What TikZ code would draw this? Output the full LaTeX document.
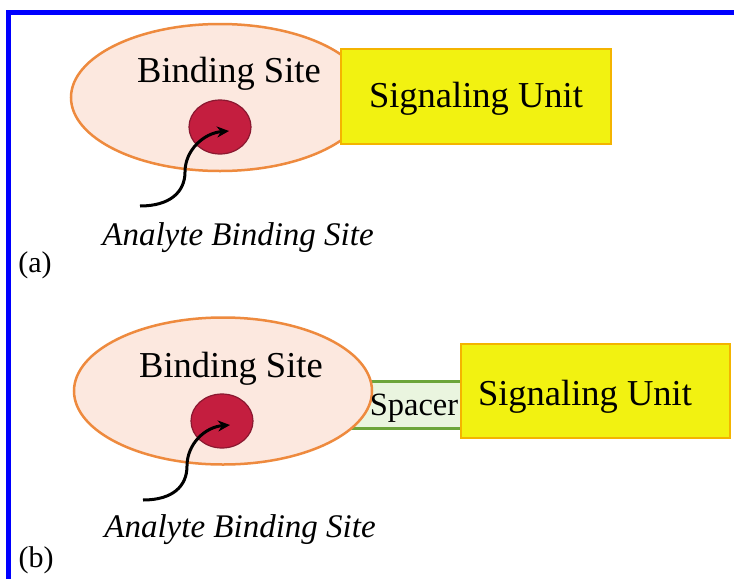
\documentclass[tikz,border=0pt]{standalone}
\usepackage{fontspec}
\setmainfont{Liberation Serif}
\usetikzlibrary{shapes.geometric}
\usetikzlibrary{arrows.meta}
\usetikzlibrary{positioning}
\definecolor{peach}{HTML}{FCE8DF}
\definecolor{peachline}{HTML}{EE8A3E}
\definecolor{pocketred}{HTML}{C41E3F}
\definecolor{pocketline}{HTML}{8A1830}
\definecolor{unitfill}{HTML}{F2F211}
\definecolor{unitline}{HTML}{F4B400}
\definecolor{spacerfill}{HTML}{EAF5DF}
\definecolor{spacerline}{HTML}{6CA53A}
\definecolor{frameblue}{HTML}{0000FF}
\tikzset{bsite/.style = {shape=ellipse,draw=peachline,fill=peach,line width=2.5pt,minimum width=298pt,minimum height=147pt,inner sep=0pt}}
\tikzset{pocket/.style = {shape=ellipse,draw=pocketline,fill=pocketred,line width=1.2pt,minimum width=62pt,minimum height=54pt,inner sep=0pt}}
\tikzset{unit/.style = {shape=rectangle,draw=unitline,fill=unitfill,line width=2pt,inner sep=0pt}}
\tikzset{spacerbox/.style = {shape=rectangle,draw=spacerline,fill=spacerfill,line width=3pt,minimum width=131pt,minimum height=47pt,inner sep=0pt}}
\tikzset{txt/.style = {anchor=base,inner sep=0pt,font=\fontsize{36.5}{42}\selectfont}}
\tikzset{itxt/.style = {anchor=base,inner sep=0pt,font=\fontsize{33}{38}\selectfont\itshape}}
\tikzset{tag/.style = {anchor=base,inner sep=0pt,font=\fontsize{30}{36}\selectfont}}
\tikzset{pointer/.style = {-{Stealth[length=12pt,width=11pt]},line width=3pt,black}}

\begin{document}
\begin{tikzpicture}[x=1pt,y=-1pt]
  \useasboundingbox (0,0) rectangle (734,579);
  \fill[white] (0,0) rectangle (734,579);
  \fill[frameblue] (6,10) rectangle (734,15);
  \fill[frameblue] (6,10) rectangle (11,579);
  % (a)
  \node[bsite] (siteA) at (220,97.5) {};
  \node[unit,minimum width=270pt,minimum height=95pt] (unitA) at (476,96.5) {};
  \node[txt] (sigA) at (476,107) {Signaling Unit};
  \node[txt] (bindA) at (229,82) {Binding Site};
  \node[pocket] (pocketA) at (220,127) {};
  \node[itxt] (analyteA) at (238,245) {Analyte Binding Site};
  \node[tag] (tagA) at (35,272) {(a)};
  \coordinate (startA) at (140,206);
  \coordinate (bendA) at (185,172);
  \coordinate (tipA) at ([xshift=9pt,yshift=-4pt]pocketA.center);
  \draw[pointer] (startA) .. controls +(30,0) and +(0,20) .. (bendA)
                 .. controls +(0,-22) and +(-25,2) .. (tipA);
  % (b)
  \node[spacerbox] (spacerB) at (395.5,404.5) {};
  \node[bsite] (siteB) at (223,391) {};
  \node[unit,minimum width=269pt,minimum height=94pt] (unitB) at (595.5,391) {};
  \node[txt] (sigB) at (585,405) {Signaling Unit};
  \node[txt,font=\fontsize{32.5}{38}\selectfont] (spacerT) at (414,415) {Spacer};
  \node[txt] (bindB) at (231,377) {Binding Site};
  \node[pocket] (pocketB) at (222,421) {};
  \node[itxt] (analyteB) at (240,537) {Analyte Binding Site};
  \node[tag] (tagB) at (36,567) {(b)};
  \coordinate (startB) at (143,500);
  \coordinate (bendB) at (187,466);
  \coordinate (tipB) at ([xshift=8pt,yshift=-4pt]pocketB.center);
  \draw[pointer] (startB) .. controls +(30,0) and +(0,20) .. (bendB)
                 .. controls +(0,-22) and +(-25,2) .. (tipB);
\end{tikzpicture}
\end{document}
